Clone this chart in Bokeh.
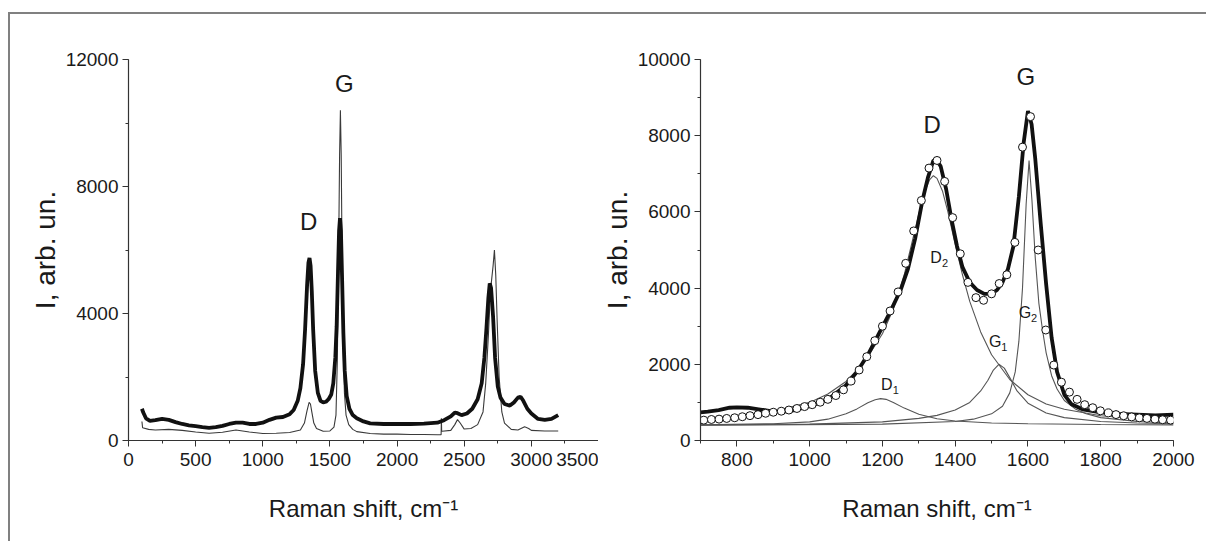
from bokeh.plotting import figure
from bokeh.models import Label, SingleIntervalTicker
from bokeh.layouts import row
from bokeh.embed import file_html
from bokeh.resources import INLINE

# ---------------- data: left panel (full spectra) ----------------
left_thick_x = [100, 110, 130, 160, 200, 250, 300, 350, 400, 450, 500, 550, 600, 650, 700, 750, 800, 850, 900, 950,
                1000, 1050, 1100, 1150, 1200, 1230, 1260, 1280, 1300, 1315, 1330, 1340, 1348, 1356, 1365, 1375, 1390,
                1410, 1430, 1450, 1470, 1490, 1510, 1525, 1540, 1550, 1560, 1568, 1575, 1582, 1590, 1600, 1610, 1625,
                1645, 1670, 1700, 1750, 1800, 1900, 2000, 2100, 2200, 2300, 2350, 2400, 2430, 2450, 2480, 2520, 2560,
                2600, 2630, 2650, 2665, 2680, 2690, 2700, 2715, 2730, 2750, 2770, 2800, 2840, 2870, 2900, 2920, 2940,
                2970, 3000, 3050, 3100, 3150, 3200]
left_thick_y = [1000, 880, 700, 620, 640, 680, 650, 580, 520, 480, 450, 420, 400, 420, 460, 520, 560, 560, 520, 520,
                560, 650, 720, 740, 830, 960, 1250, 1650, 2400, 3500, 4900, 5600, 5750, 5500, 4700, 3500, 2200,
                1500, 1250, 1200, 1220, 1300, 1450, 1800, 2600, 3600, 5300, 6600, 7000, 6600, 5200, 3400, 2200, 1400,
                1000, 800, 700, 600, 540, 520, 520, 520, 530, 560, 640, 760, 880, 860, 800, 850, 1000,
                1300, 1800, 2600, 3500, 4500, 4950, 4800, 3900, 2600, 1700, 1350, 1150, 1100, 1200, 1350, 1380, 1250,
                1000, 850, 680, 650, 680, 800]

left_thin_x = [100, 105, 150, 200, 300, 400, 500, 600, 700, 800, 900, 1000, 1100, 1200, 1280, 1310, 1330, 1345, 1355,
               1365, 1380, 1400, 1450, 1500, 1530, 1545, 1555, 1565, 1572, 1578, 1584, 1590, 1598, 1608, 1620, 1640,
               1670, 1700, 1800, 1900, 2000, 2100, 2200, 2300, 2328, 2330, 2332, 2335, 2400, 2430, 2450, 2470, 2500,
               2550, 2600, 2640, 2660, 2680, 2695, 2705, 2715, 2725, 2735, 2745, 2760, 2780, 2800, 2850, 2900, 2950,
               2980, 3000, 3100, 3200]
left_thin_y = [600, 400, 350, 330, 350, 320, 270, 230, 260, 330, 270, 220, 230, 250, 330, 550, 950, 1200, 1150,
               900, 550, 380, 290, 300, 420, 800, 2500, 6000, 9000, 10400, 9000, 6000, 3000, 1500, 800, 500,
               350, 280, 220, 200, 200, 190, 190, 180, 180, 700, 300, 290, 320, 500, 660, 550, 360,
               380, 500, 900, 1800, 3300, 4700, 5100, 5500, 6000, 5200, 3800, 2000, 900, 550, 350, 330, 430,
               380, 320, 300, 300]

# ---------------- data: right panel (fit of D and G bands) ----------------
exp_x = [700, 720, 750, 780, 800, 830, 860, 900, 930, 960, 1000, 1030, 1060, 1100, 1130, 1160, 1190, 1220, 1250, 1270,
         1290, 1310, 1325, 1340, 1350, 1360, 1375, 1390, 1405, 1420, 1440, 1460, 1480, 1500, 1515, 1530, 1545, 1560,
         1575, 1588, 1600, 1610, 1620, 1635, 1650, 1665, 1680, 1700, 1720, 1750, 1800, 1850, 1900, 1950, 2000]
exp_y = [740, 760, 800, 860, 870, 860, 820, 760, 760, 800, 900, 1000, 1150, 1450, 1800, 2250, 2800, 3350, 3950, 4500,
         5300, 6300, 6900, 7350, 7350, 7200, 6600, 5800, 5100, 4550, 4150, 3950, 3850, 3850, 3950, 4150, 4500, 5100,
         6400, 7800, 8650, 8300, 7400, 5700, 4100, 2700, 1800, 1200, 950, 820, 740, 700, 680, 660, 680]

fit_x = [709, 730, 751, 772, 794, 815, 836, 858, 879, 900, 922, 943, 965, 986, 1007, 1029, 1050, 1072, 1093, 1114,
         1136, 1157, 1179, 1200, 1221, 1243, 1264, 1286, 1307, 1328, 1350, 1371, 1393, 1414, 1435, 1457, 1478, 1500,
         1521, 1542, 1564, 1585, 1607, 1628, 1649, 1671, 1692, 1714, 1735, 1756, 1778, 1799, 1821, 1842, 1863, 1885,
         1906, 1927, 1949, 1970, 1992]
fit_y = [534, 552, 561, 579, 597, 624, 652, 679, 715, 742, 769, 800, 840, 890, 940, 1005, 1080, 1180, 1330, 1560,
         1850, 2200, 2620, 3000, 3400, 3900, 4650, 5500, 6300, 7150, 7350, 6800, 5850, 4900, 4150, 3750, 3680, 3850,
         4120, 4350, 5200, 7700, 8500, 5000, 2900, 1980, 1530, 1270, 1080, 940, 860, 780, 725, 680, 650, 620,
         595, 580, 560, 545, 535]

d1_x = [700, 900, 1000, 1050, 1100, 1130, 1160, 1180, 1195, 1210, 1230, 1260, 1300, 1350, 1400, 1500, 1600, 1800, 2000]
d1_y = [410, 440, 490, 560, 700, 830, 990, 1070, 1100, 1080, 1000, 850, 690, 570, 510, 460, 440, 420, 410]

d2_x = [700, 800, 900, 1000, 1050, 1100, 1150, 1200, 1230, 1260, 1280, 1300, 1315, 1330, 1340, 1350, 1365, 1380, 1400,
        1420, 1440, 1470, 1500, 1550, 1600, 1650, 1700, 1800, 1900, 2000]
d2_y = [540, 620, 760, 1000, 1220, 1550, 2050, 2800, 3450, 4350, 5150, 5950, 6500, 6850, 6950, 6880, 6550, 6000, 5150,
        4350, 3650, 2850, 2250, 1600, 1200, 960, 820, 650, 570, 520]

g1_x = [700, 1000, 1200, 1300, 1350, 1400, 1440, 1470, 1490, 1505, 1520, 1535, 1550, 1570, 1600, 1650, 1700, 1800, 1900, 2000]
g1_y = [405, 430, 490, 580, 660, 800, 1000, 1300, 1580, 1850, 2000, 1900, 1650, 1300, 980, 720, 600, 500, 460, 440]

g2_x = [700, 1200, 1400, 1450, 1500, 1530, 1550, 1565, 1575, 1585, 1595, 1603, 1611, 1620, 1630, 1640, 1650, 1665,
        1680, 1700, 1730, 1760, 1800, 1900, 2000]
g2_y = [400, 430, 500, 560, 700, 900, 1250, 1800, 2600, 4000, 6200, 7350, 6300, 4800, 3600, 2900, 2300, 1700,
        1350, 1050, 830, 700, 600, 500, 460]

# ---------------- labels ----------------
x_label = "Raman shift, cm\u207b\u00b9"
y_label = "I, arb. un."
left_peaks = [("D", 1342, 6900), ("G", 1608, 11250)]
right_peaks = [("D", 1337, 8300), ("G", 1594, 9550)]
comp_labels = [("D", "1", 1212, 1480), ("D", "2", 1347, 4815), ("G", "1", 1510, 2600), ("G", "2", 1592, 3367)]

FONT = "Liberation Sans"
TXT = "#1a1a1a"


def style(p, xint, yint):
    p.outline_line_color = None
    p.grid.grid_line_color = None
    p.xaxis.ticker = SingleIntervalTicker(interval=xint, num_minor_ticks=2)
    p.yaxis.ticker = SingleIntervalTicker(interval=yint, num_minor_ticks=2)
    for ax in (p.xaxis[0], p.yaxis[0]):
        ax.axis_line_color = "#333333"
        ax.axis_line_width = 1.2
        ax.major_tick_line_color = "#333333"
        ax.minor_tick_line_color = "#333333"
        ax.major_tick_out = 6
        ax.major_tick_in = 0
        ax.minor_tick_out = 3
        ax.minor_tick_in = 0
        ax.major_label_text_font = FONT
        ax.major_label_text_font_size = "19px"
        ax.major_label_text_color = TXT
        ax.axis_label_text_font = FONT
        ax.axis_label_text_font_style = "normal"
        ax.axis_label_text_color = TXT
    p.xaxis.axis_label = x_label
    p.yaxis.axis_label = y_label
    p.xaxis.axis_label_text_font_size = "24px"
    p.yaxis.axis_label_text_font_size = "28px"
    p.xaxis.major_label_standoff = 6
    p.yaxis.major_label_standoff = 4
    p.xaxis.axis_label_standoff = 26
    p.yaxis.axis_label_standoff = 2


p1 = figure(frame_width=470, frame_height=381, x_range=(0, 3500), y_range=(0, 12000),
            min_border_left=118, min_border_right=0, min_border_top=45, min_border_bottom=101,
            output_backend="svg", toolbar_location=None)
style(p1, 500, 4000)
p1.line(left_thin_x, left_thin_y, line_color="#3a3a3a", line_width=1.1)
p1.line(left_thick_x, left_thick_y, line_color="#111111", line_width=3.8)
for t, x, y in left_peaks:
    p1.add_layout(Label(x=x, y=y, text=t, text_font=FONT, text_font_size="24px", text_color=TXT,
                        text_align="center", text_baseline="middle"))

p2 = figure(frame_width=473, frame_height=381, x_range=(700, 2000), y_range=(0, 10000),
            min_border_left=88, min_border_right=38, min_border_top=45, min_border_bottom=101,
            output_backend="svg", toolbar_location=None)
style(p2, 200, 2000)
for cx, cy in ((d1_x, d1_y), (d2_x, d2_y), (g1_x, g1_y), (g2_x, g2_y)):
    p2.line(cx, cy, line_color="#555555", line_width=1.1)
p2.line(exp_x, exp_y, line_color="#111111", line_width=3.8)
p2.scatter(fit_x, fit_y, marker="circle", size=8, fill_color="white", line_color="#111111", line_width=1)
for t, x, y in right_peaks:
    p2.add_layout(Label(x=x, y=y, text=t, text_font=FONT, text_font_size="24px", text_color=TXT,
                        text_align="center", text_baseline="middle"))
for t, s, x, y in comp_labels:
    p2.add_layout(Label(x=x, y=y, text=t, text_font=FONT, text_font_size="16px", text_color=TXT,
                        text_align="center", text_baseline="middle"))
    p2.add_layout(Label(x=x, y=y, x_offset=6, y_offset=-6, text=s, text_font=FONT, text_font_size="11px",
                        text_color=TXT, text_align="left", text_baseline="middle"))

layout = row(p1, p2, styles={"border-top": "2px solid #808080", "border-left": "2px solid #808080",
                             "margin-top": "12px", "margin-left": "8px"})

open("out.html", "w").write(file_html(layout, INLINE))
